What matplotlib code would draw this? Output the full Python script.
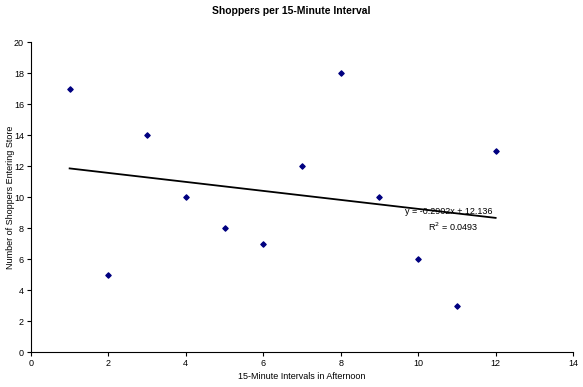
import numpy as np
import matplotlib.pyplot as plt

# data
intervals = [1, 2, 3, 4, 5, 6, 7, 8, 9, 10, 11, 12]
shoppers = [17, 5, 14, 10, 8, 7, 12, 18, 10, 6, 3, 13]

# trendline as shown in the chart
slope = -0.2902
intercept = 12.136
r_squared = 0.0493

plt.rcParams['font.family'] = ['Liberation Sans', 'DejaVu Sans']

fig = plt.figure(figsize=(5.83, 3.87), dpi=100)
ax = fig.add_axes([0.053, 0.0904, 0.930, 0.801])

ax.scatter(intervals, shoppers, marker='D', s=7, color='#000080', zorder=3)

x_fit = np.array([intervals[0], intervals[-1]])
ax.plot(x_fit, slope * x_fit + intercept, color='black', linewidth=1.3, zorder=2)

ax.text(11.93, 9.05, f"y = {slope}x + {intercept}", fontsize=6.5, ha='right', va='center')
ax.text(11.55, 8.1, f"R$^2$ = {r_squared}", fontsize=6.5, ha='right', va='center')

ax.set_xlim(0, 14)
ax.set_ylim(0, 20)
ax.set_xticks(range(0, 15, 2))
ax.set_yticks(range(0, 21, 2))
ax.tick_params(axis='both', labelsize=6.5, direction='out', length=3, width=0.8, pad=2)

for side in ['top', 'right']:
    ax.spines[side].set_visible(False)
for side in ['left', 'bottom']:
    ax.spines[side].set_linewidth(0.8)

ax.set_xlabel('15-Minute Intervals in Afternoon', fontsize=6.5, labelpad=3)
ax.set_ylabel('Number of Shoppers Entering Store', fontsize=6.5)
ax.yaxis.set_label_coords(-0.03, 0.5)
fig.suptitle('Shoppers per 15-Minute Interval', fontsize=7.5, fontweight='bold', y=0.985)

fig.savefig('out.png', dpi=100)
